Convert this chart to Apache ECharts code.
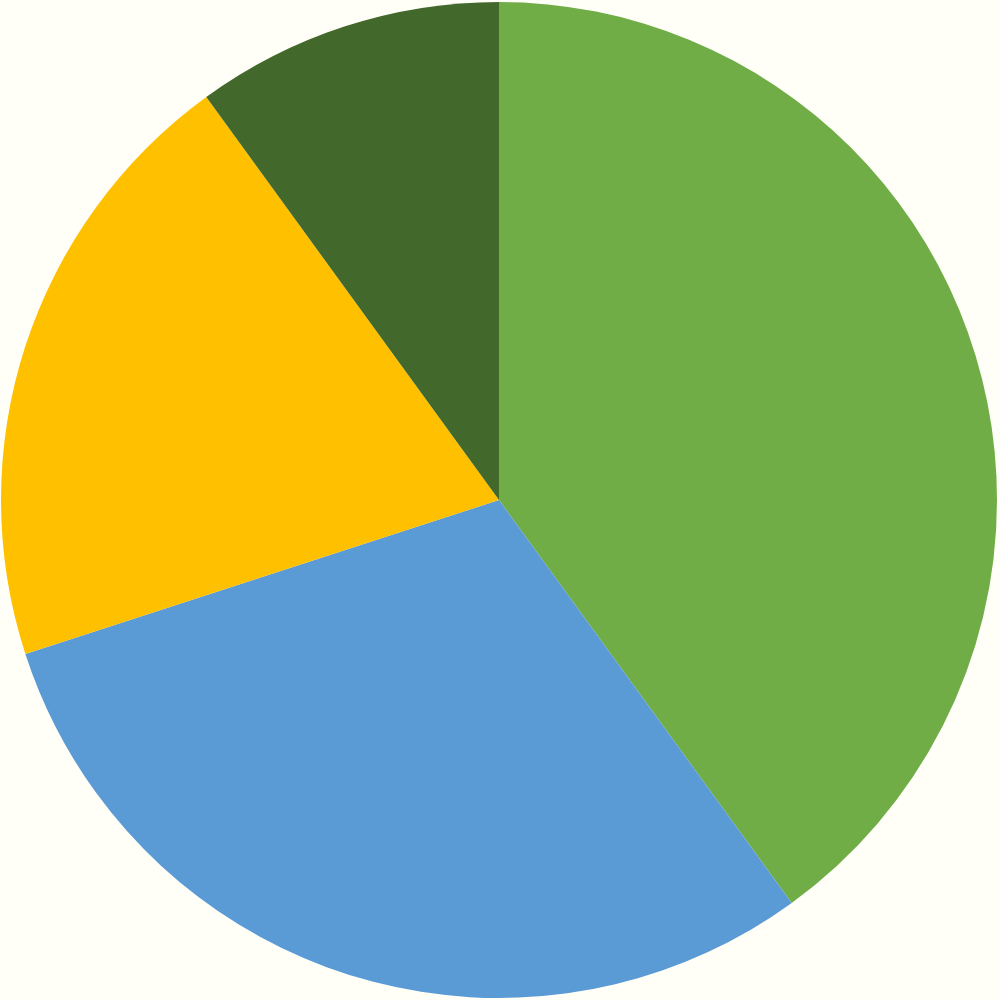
<!DOCTYPE html>
<html>
<head>
<meta charset="utf-8">
<script src="https://cdn.jsdelivr.net/npm/echarts@6/dist/echarts.min.js"></script>
<style>
  html, body { margin: 0; padding: 0; background: #fffff8; }
  #main { width: 1000px; height: 1000px; }
</style>
</head>
<body>
<div id="main"></div>
<script>
// slices clockwise from 12 o'clock
let sliceNames = ['A', 'B', 'C', 'D'];
let sliceValues = [40, 30, 20, 10];
let sliceColors = ['#70ad47', '#5b9bd5', '#ffc000', '#43682b'];

let pieData = sliceNames.map((name, i) => ({
    name: name,
    value: sliceValues[i],
    itemStyle: { color: sliceColors[i] }
}));

const option = {
    backgroundColor: '#fffff8',
    animation: false,
    series: [{
        type: 'pie',
        center: [499, 500],
        radius: [0, 498],
        startAngle: 90,
        clockwise: true,
        label: { show: false },
        labelLine: { show: false },
        emphasis: { disabled: true },
        itemStyle: { borderWidth: 0 },
        data: pieData
    }]
};

let plot = echarts.init(document.querySelector('#main'));
plot.setOption(option);
</script>
</body>
</html>
